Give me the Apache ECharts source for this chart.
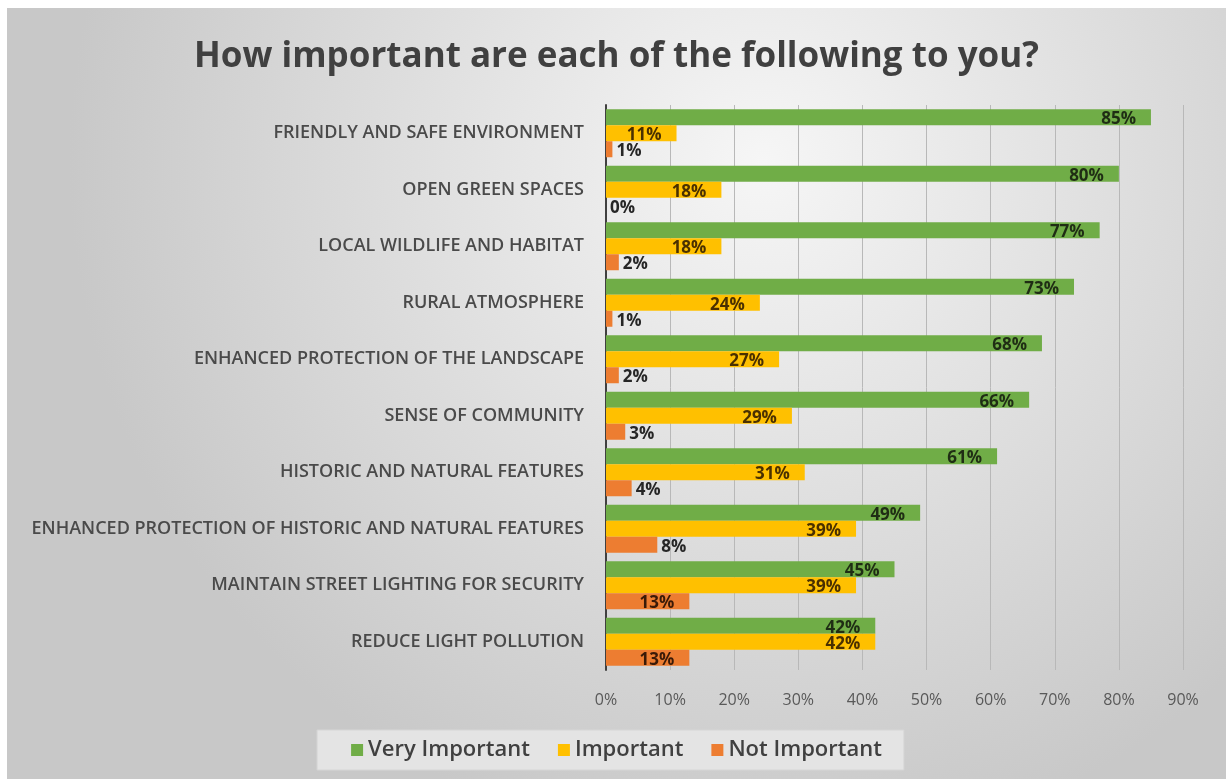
<!DOCTYPE html>
<html>
<head>
<meta charset="utf-8">
<script src="https://cdn.jsdelivr.net/npm/echarts@6/dist/echarts.min.js"></script>
<style>
  html, body { margin: 0; padding: 0; background: #fff; }
  #chart { position: absolute; left: 7px; top: 8px; width: 1219px; height: 771px; }
</style>
</head>
<body>
<div id="chart"></div>
<script>
const categories = [
  'FRIENDLY AND SAFE ENVIRONMENT',
  'OPEN GREEN SPACES',
  'LOCAL WILDLIFE AND HABITAT',
  'RURAL ATMOSPHERE',
  'ENHANCED PROTECTION OF THE LANDSCAPE',
  'SENSE OF COMMUNITY',
  'HISTORIC AND NATURAL FEATURES',
  'ENHANCED PROTECTION OF HISTORIC AND NATURAL FEATURES',
  'MAINTAIN STREET LIGHTING FOR SECURITY',
  'REDUCE LIGHT POLLUTION'
]
const veryImportant = [85, 80, 77, 73, 68, 66, 61, 49, 45, 42]
const important = [11, 18, 18, 24, 27, 29, 31, 39, 39, 42]
const notImportant = [1, 0, 2, 1, 2, 3, 4, 8, 13, 13]

const FONT = '"Open Sans", sans-serif'

// small bars get the label just outside, the rest inside at the end
const withLabels = (values, color) =>
  values.map((v) => ({
    value: v,
    label: v < 10
      ? { position: 'right', distance: 4, color: '#262626' }
      : { position: 'insideRight', distance: 15, color }
  }))

const makeSeries = (name, values, color, labelColor) => ({
  name,
  type: 'bar',
  data: withLabels(values, labelColor),
  barWidth: 16,
  barGap: '0%',
  itemStyle: { color },
  label: {
    show: true,
    formatter: '{c}%',
    fontFamily: FONT,
    fontWeight: 'bold',
    fontSize: 17,
    offset: [0, 2]
  },
  animation: false
})

const chart = echarts.init(document.getElementById('chart'))
chart.setOption({
  backgroundColor: {
    type: 'radial',
    x: 0.62,
    y: 0.2,
    r: 0.9,
    colorStops: [
      { offset: 0, color: '#f6f6f6' },
      { offset: 1, color: '#c8c8c8' }
    ]
  },
  title: {
    text: 'How important are each of the following to you?',
    left: 'center',
    top: 27,
    textStyle: {
      fontFamily: FONT,
      fontWeight: 'bold',
      fontSize: 35,
      color: '#404040'
    }
  },
  grid: {
    left: 599,
    right: 43,
    top: 97,
    bottom: 109
  },
  legend: {
    bottom: 9,
    left: 'center',
    itemWidth: 12,
    itemHeight: 12,
    itemGap: 28,
    padding: [9, 22, 9, 34],
    backgroundColor: '#e4e4e4',
    borderColor: '#d6d6d6',
    borderWidth: 1,
    icon: 'rect',
    textStyle: {
      fontFamily: FONT,
      fontWeight: 600,
      fontSize: 22,
      color: '#404040'
    }
  },
  xAxis: {
    type: 'value',
    min: 0,
    max: 90,
    interval: 10,
    axisLine: { show: false },
    axisTick: { show: false },
    axisLabel: {
      formatter: '{value}%',
      margin: 22,
      fontFamily: FONT,
      fontSize: 16,
      color: '#595959'
    },
    splitLine: { lineStyle: { color: '#b8b8b8', width: 1 } }
  },
  yAxis: {
    type: 'category',
    data: categories,
    inverse: true,
    axisLine: { lineStyle: { color: '#404040', width: 2 } },
    axisTick: { show: false },
    axisLabel: {
      margin: 22,
      fontFamily: FONT,
      fontWeight: 600,
      fontSize: 18,
      color: '#4a4a4a'
    }
  },
  series: [
    makeSeries('Very Important', veryImportant, '#70ad47', '#1f2d14'),
    makeSeries('Important', important, '#ffc000', '#4a3000'),
    makeSeries('Not Important', notImportant, '#ed7d31', '#3a1a08')
  ]
})
</script>
</body>
</html>
